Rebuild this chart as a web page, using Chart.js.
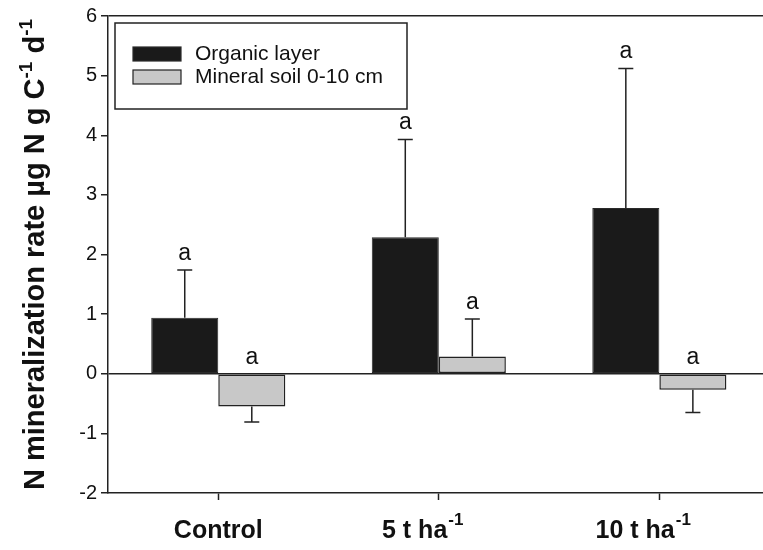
<!DOCTYPE html>
<html><head><meta charset="utf-8">
<script src="https://cdn.jsdelivr.net/npm/chart.js@4/dist/chart.umd.min.js"></script>
<style>html,body{margin:0;padding:0;background:#fff}#wrap{width:763px;height:550px}</style>
</head><body><div id="wrap"><canvas id="c" width="763" height="550"></canvas></div>
<script>
// ---- data ----
const categories = ['Control', '5 t ha', '10 t ha'];
const categorySup = ['', '-1', '-1'];
const seriesNames = ['Organic layer', 'Mineral soil 0-10 cm'];
const organicMean = [0.94, 2.29, 2.78];
const organicErr = [0.80, 1.64, 2.34];
const mineralMean = [-0.55, 0.29, -0.27];
const mineralErr = [0.26, 0.63, 0.38];
const organicLetters = ['a', 'a', 'a'];
const mineralLetters = ['a', 'a', 'a'];
const yTicks = [-2, -1, 0, 1, 2, 3, 4, 5, 6];
const yTitleParts = [['N mineralization rate µg N g C', false], ['-1', true], [' d', false], ['-1', true]];

// ---- styling ----
const FONT = "'Liberation Sans', Arial, sans-serif";
const TXT = '#111';
const LINE = '#222';
Chart.defaults.font.family = FONT;

const toPoints = (means) => means.map((v, i) => ({ x: i + 1, y: v }));

const errorBarsPlugin = {
  id: 'errorBars',
  afterDatasetsDraw(chart) {
    const ctx = chart.ctx, ys = chart.scales.y;
    chart.data.datasets.forEach((ds, d) => {
      const meta = chart.getDatasetMeta(d);
      meta.data.forEach((bar, i) => {
        const v = ds.data[i].y, e = ds.errors[i];
        const end = v >= 0 ? v + e : v - e;
        const yBase = ys.getPixelForValue(v), yEnd = ys.getPixelForValue(end);
        ctx.save();
        ctx.strokeStyle = LINE; ctx.lineWidth = 1.5;
        ctx.beginPath();
        ctx.moveTo(bar.x, yBase); ctx.lineTo(bar.x, yEnd);
        ctx.moveTo(bar.x - 7.5, yEnd); ctx.lineTo(bar.x + 7.5, yEnd);
        ctx.stroke();
        // significance letter
        const yLetter = (v >= 0 ? yEnd : ys.getPixelForValue(0)) - 10;
        ctx.fillStyle = TXT;
        ctx.font = '23px ' + FONT;
        ctx.textAlign = 'center'; ctx.textBaseline = 'alphabetic';
        ctx.fillText(ds.letters[i], bar.x, yLetter);
        ctx.restore();
      });
    });
  }
};

const decorPlugin = {
  id: 'decor',
  afterDraw(chart) {
    const ctx = chart.ctx, xs = chart.scales.x, area = chart.chartArea;
    ctx.save();
    // legend box
    ctx.strokeStyle = LINE; ctx.lineWidth = 1.5;
    ctx.strokeRect(115, 23, 292, 86);
    chart.data.datasets.forEach((ds, d) => {
      const y = 47 + d * 23;
      ctx.fillStyle = ds.backgroundColor;
      ctx.fillRect(133, y, 48, 14);
      ctx.strokeStyle = ds.borderColor; ctx.lineWidth = 1.2;
      ctx.strokeRect(133, y, 48, 14);
      ctx.fillStyle = TXT;
      ctx.font = '21px ' + FONT;
      ctx.textAlign = 'left'; ctx.textBaseline = 'middle';
      ctx.fillText(ds.label, 195, y + 7);
    });
    // x category labels with superscripts
    categories.forEach((c, i) => {
      const px = xs.getPixelForValue(i + 1);
      ctx.font = 'bold 25px ' + FONT;
      const mw = ctx.measureText(c).width;
      ctx.font = 'bold 17px ' + FONT;
      const sw = categorySup[i] ? ctx.measureText(categorySup[i]).width + 1 : 0;
      const start = px - (mw + sw) / 2 - sw;
      ctx.fillStyle = TXT; ctx.textAlign = 'left'; ctx.textBaseline = 'alphabetic';
      ctx.font = 'bold 25px ' + FONT;
      ctx.fillText(c, start, 538);
      if (categorySup[i]) {
        ctx.font = 'bold 17px ' + FONT;
        ctx.fillText(categorySup[i], start + mw + 1, 525);
      }
    });
    // y-axis title, rotated, with superscripts
    const cy = (area.top + area.bottom) / 2;
    ctx.translate(44, cy);
    ctx.rotate(-Math.PI / 2);
    const bigF = 'bold 29px ' + FONT, supF = 'bold 19px ' + FONT;
    let total = 0;
    yTitleParts.forEach(([t, sup]) => { ctx.font = sup ? supF : bigF; total += ctx.measureText(t).width; });
    let x = -total / 2;
    ctx.fillStyle = TXT; ctx.textAlign = 'left'; ctx.textBaseline = 'alphabetic';
    yTitleParts.forEach(([t, sup]) => {
      ctx.font = sup ? supF : bigF;
      ctx.fillText(t, x, sup ? -12 : 0);
      x += ctx.measureText(t).width;
    });
    ctx.restore();
  }
};

new Chart(document.getElementById('c'), {
  type: 'bar',
  data: {
    datasets: [
      { label: seriesNames[0], data: toPoints(organicMean), errors: organicErr, letters: organicLetters,
        backgroundColor: '#1a1a1a', borderColor: '#2a2a2a', borderWidth: 1, borderSkipped: false,
        categoryPercentage: 0.608, barPercentage: 1 },
      { label: seriesNames[1], data: toPoints(mineralMean), errors: mineralErr, letters: mineralLetters,
        backgroundColor: '#c8c8c8', borderColor: '#222222', borderWidth: 1.5, borderSkipped: false,
        categoryPercentage: 0.608, barPercentage: 1 }
    ]
  },
  options: {
    responsive: false, animation: false, devicePixelRatio: 1,
    layout: { padding: { top: 15, right: 0, left: 0, bottom: 0 } },
    plugins: { legend: { display: false }, tooltip: { enabled: false } },
    scales: {
      x: {
        type: 'linear', min: 0.5, max: 3.47, offset: false,
        afterBuildTicks: s => { s.ticks = categories.map((c, i) => ({ value: i + 1 })); },
        ticks: { display: false },
        grid: { offset: false, drawOnChartArea: false, tickLength: 7, tickColor: LINE, tickWidth: 1.5 },
        border: { color: LINE, width: 1.5 },
        afterFit: s => { s.height = 57; }
      },
      y: {
        min: -2, max: 6,
        afterBuildTicks: s => { s.ticks = yTicks.map(v => ({ value: v })); },
        ticks: { font: { size: 20 }, color: TXT, padding: 4 },
        grid: {
          color: c => (c.tick && (c.tick.value === 0 || c.tick.value === 6)) ? LINE : 'rgba(0,0,0,0)',
          lineWidth: 1.5, tickLength: 7, tickColor: LINE, tickWidth: 1.5
        },
        border: { color: LINE, width: 1.5 },
        afterFit: s => { s.width = 108; }
      }
    }
  },
  plugins: [errorBarsPlugin, decorPlugin]
});
</script>
</body></html>
